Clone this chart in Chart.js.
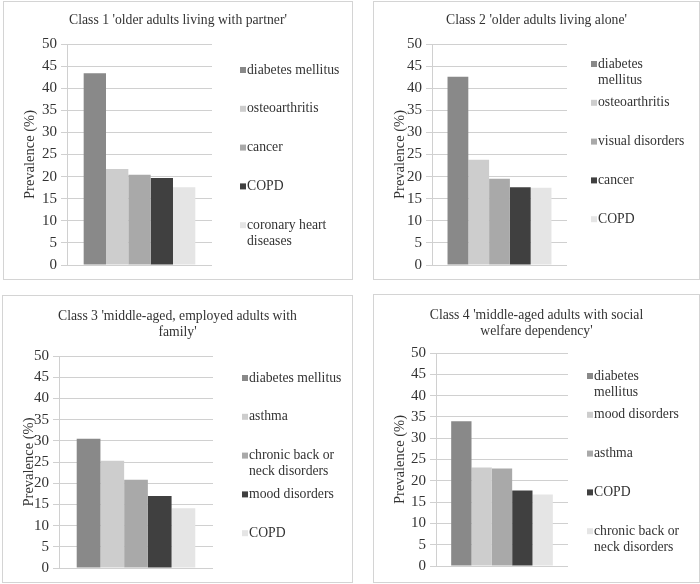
<!DOCTYPE html>
<html lang="en">
<head>
    <meta charset="UTF-8">
    <title>Prevalence of chronic conditions per class</title>
    <script src="https://cdn.jsdelivr.net/npm/chart.js"></script>
    <style>
        * {
            margin: 0;
            padding: 0;
            box-sizing: border-box;
        }

        body {
            width: 700px;
            height: 584px;
            background: #fff;
            position: relative;
            overflow: hidden;
        }

        /* each class is its own framed chart */
        .panel {
            position: absolute;
            border: 1px solid #d4d4d4;
            background: #fff;
        }

        .panel canvas {
            display: block;
        }
    </style>
</head>
<body>
    <div class="panel" style="left:3px; top:1px; width:350px; height:279px;"><canvas id="class1"></canvas></div>
    <div class="panel" style="left:373px; top:1px; width:327px; height:279px;"><canvas id="class2"></canvas></div>
    <div class="panel" style="left:2px; top:295px; width:351px; height:288px;"><canvas id="class3"></canvas></div>
    <div class="panel" style="left:373px; top:294px; width:327px; height:289px;"><canvas id="class4"></canvas></div>

    <script>
        // data (prevalence in %)
        const class1Labels = ['diabetes mellitus', 'osteoarthritis', 'cancer', 'COPD', 'coronary heart diseases'];
        const class1Values = [43.4, 21.7, 20.4, 19.7, 17.6];

        const class2Labels = ['diabetes mellitus', 'osteoarthritis', 'visual disorders', 'cancer', 'COPD'];
        const class2Values = [42.6, 23.8, 19.5, 17.6, 17.5];

        const class3Labels = ['diabetes mellitus', 'asthma', 'chronic back or neck disorders', 'mood disorders', 'COPD'];
        const class3Values = [30.5, 25.3, 20.8, 17.0, 14.1];

        const class4Labels = ['diabetes mellitus', 'mood disorders', 'asthma', 'COPD', 'chronic back or neck disorders'];
        const class4Values = [34.0, 23.1, 22.9, 17.7, 16.8];

        const yTicks = [0, 5, 10, 15, 20, 25, 30, 35, 40, 45, 50];
        const yTitle = 'Prevalence (%)';

        const seriesColors = ['#898989', '#cdcdcd', '#a9a9a9', '#404040', '#e5e5e5'];
        const textColor = '#333333';
        const gridColor = '#d0d0d0';
        const serif = '"Liberation Serif", "Times New Roman", serif';

        // greedy word wrap for legend entries
        function wrapLabel(ctx, text, maxWidth) {
            const words = text.split(' ');
            const lines = [];
            let line = '';
            words.forEach(w => {
                const test = line ? line + ' ' + w : w;
                if (line && ctx.measureText(test).width > maxWidth) {
                    lines.push(line);
                    line = w;
                } else {
                    line = test;
                }
            });
            lines.push(line);
            return lines;
        }

        // title and right-hand legend, laid out like the spreadsheet original
        const panelText = {
            id: 'panelText',
            afterDraw(chart, args, opts) {
                const ctx = chart.ctx;
                const area = chart.chartArea;
                ctx.save();
                ctx.textBaseline = 'middle';
                ctx.fillStyle = textColor;
                ctx.font = '13.7px ' + serif;
                ctx.textAlign = 'center';
                opts.title.forEach((line, i) => {
                    ctx.fillText(line, chart.width / 2, opts.titleY + i * 16);
                });

                ctx.textAlign = 'left';
                const x = area.right + opts.legendGap;
                chart.data.datasets.forEach((ds, i) => {
                    const y = area.top + opts.legendTop + i * 38.8;
                    ctx.fillStyle = ds.backgroundColor;
                    ctx.fillRect(x, y - 3, 6, 6);
                    ctx.fillStyle = textColor;
                    wrapLabel(ctx, ds.label, opts.wrap).forEach((line, j) => {
                        ctx.fillText(line, x + 7, y + j * 16);
                    });
                });
                ctx.restore();
            }
        };

        function drawClass(id, labels, values, panel) {
            new Chart(document.getElementById(id), {
                type: 'bar',
                data: {
                    labels: [''],
                    datasets: labels.map((lab, i) => ({
                        label: lab,
                        data: [values[i]],
                        backgroundColor: seriesColors[i],
                        categoryPercentage: 0.77,
                        barPercentage: 1.0
                    }))
                },
                plugins: [panelText],
                options: {
                    responsive: true,
                    maintainAspectRatio: false,
                    animation: false,
                    layout: {
                        padding: { left: 0, top: panel.top, right: panel.right, bottom: panel.bottom }
                    },
                    scales: {
                        x: { display: false },
                        y: {
                            min: yTicks[0],
                            max: yTicks[yTicks.length - 1],
                            afterBuildTicks: scale => {
                                scale.ticks = yTicks.map(v => ({ value: v }));
                            },
                            afterFit: scale => {
                                scale.width = panel.yWidth;
                            },
                            ticks: {
                                color: textColor,
                                padding: 4,
                                font: { family: serif, size: 15 }
                            },
                            grid: {
                                color: gridColor,
                                tickLength: 6
                            },
                            border: { display: true, color: gridColor },
                            title: {
                                display: true,
                                text: yTitle,
                                color: textColor,
                                padding: { top: 17, bottom: 0 },
                                font: { family: serif, size: 14.5 }
                            }
                        }
                    },
                    plugins: {
                        legend: { display: false },
                        title: { display: false },
                        tooltip: { enabled: false },
                        panelText: {
                            title: panel.title,
                            titleY: panel.titleY,
                            legendGap: panel.legendGap,
                            legendTop: panel.legendTop,
                            wrap: panel.wrap
                        }
                    }
                }
            });
        }

        drawClass('class1', class1Labels, class1Values, {
            title: ["Class 1 'older adults living with partner'"], titleY: 18,
            top: 42, right: 140, bottom: 14, yWidth: 63,
            legendGap: 28, legendTop: 26, wrap: 104
        });
        drawClass('class2', class2Labels, class2Values, {
            title: ["Class 2 'older adults living alone'"], titleY: 18,
            top: 42, right: 132, bottom: 14, yWidth: 58,
            legendGap: 24, legendTop: 20, wrap: 90
        });
        drawClass('class3', class3Labels, class3Values, {
            title: ["Class 3 'middle-aged, employed adults with", "family'"], titleY: 20,
            top: 60, right: 139, bottom: 14, yWidth: 56,
            legendGap: 29, legendTop: 22, wrap: 104
        });
        drawClass('class4', class4Labels, class4Values, {
            title: ["Class 4 'middle-aged adults with social", "welfare dependency'"], titleY: 20,
            top: 58, right: 131, bottom: 16, yWidth: 62,
            legendGap: 19, legendTop: 23, wrap: 90
        });
    </script>
</body>
</html>
